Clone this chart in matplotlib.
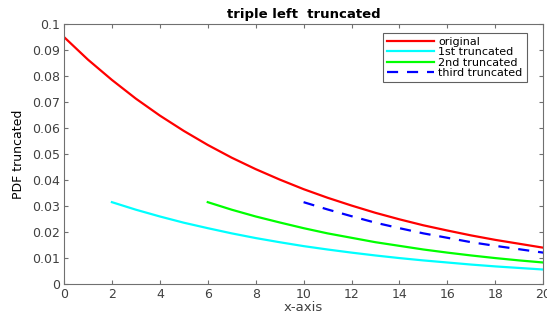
import numpy as np
import matplotlib
matplotlib.use('Agg')
from matplotlib import pyplot as plt

plt.rcParams['font.family'] = ['DejaVu Sans']

# values
x_orig = list(range(0, 21))
y_orig = [0.0950, 0.0863, 0.0785, 0.0713, 0.0648, 0.0589, 0.0535, 0.0486, 0.0442, 0.0402,
          0.0365, 0.0332, 0.0302, 0.0274, 0.0249, 0.0226, 0.0206, 0.0187, 0.0170, 0.0155, 0.0140]
x_first = list(range(2, 21))
y_first = [0.0315, 0.0286, 0.0260, 0.0236, 0.0215, 0.0195, 0.0177, 0.0161, 0.0146, 0.0133,
           0.0121, 0.0110, 0.0100, 0.0091, 0.0083, 0.0075, 0.0068, 0.0062, 0.0056]
x_second = list(range(6, 21))
y_second = [0.0315, 0.0286, 0.0260, 0.0237, 0.0215, 0.0195, 0.0178, 0.0161, 0.0147, 0.0133,
            0.0121, 0.0110, 0.0100, 0.0091, 0.0083]
x_third = list(range(10, 21))
y_third = [0.0315, 0.0287, 0.0261, 0.0236, 0.0215, 0.0195, 0.0178, 0.0161, 0.0147, 0.0134, 0.0121]

labels = ['original', '1st truncated', '2nd truncated', 'third truncated']

fig = plt.figure(figsize=(5.47, 3.16), dpi=100)
ax = fig.add_axes([0.117, 0.101, 0.876, 0.823])

ax.plot(x_orig, y_orig, color='red', lw=1.6, label=labels[0])
ax.plot(x_first, y_first, color='cyan', lw=1.6, label=labels[1])
ax.plot(x_second, y_second, color='#00ff00', lw=1.6, label=labels[2])
ax.plot(x_third, y_third, color='blue', lw=1.6, ls=(0, (5, 4)), label=labels[3])

ax.set_xlim(0, 20)
ax.set_ylim(0, 0.1)
ax.set_xticks(np.arange(0, 21, 2))
ax.set_yticks(np.arange(0, 0.101, 0.01))
ax.set_yticklabels(['0', '0.01', '0.02', '0.03', '0.04', '0.05', '0.06', '0.07', '0.08', '0.09', '0.1'])

gray = '#404040'
for sp in ax.spines.values():
    sp.set_color('#707070')
ax.tick_params(direction='in', top=True, right=True, length=3, labelsize=9,
               colors='#707070', labelcolor=gray, pad=3)

ax.set_title('triple left  truncated', fontsize=9.5, fontweight='bold', pad=4)
ax.set_xlabel('x-axis', fontsize=9.5, color=gray, labelpad=0)
ax.set_ylabel('PDF truncated', fontsize=9, color='black', labelpad=5)

leg = ax.legend(loc='upper right', bbox_to_anchor=(0.977, 0.988), fontsize=8,
                fancybox=False, framealpha=1, edgecolor='#606060',
                handlelength=4.2, handletextpad=0.4, borderpad=0.35, labelspacing=0.05)
leg.get_frame().set_linewidth(0.8)

fig.savefig('out.png', dpi=100)
